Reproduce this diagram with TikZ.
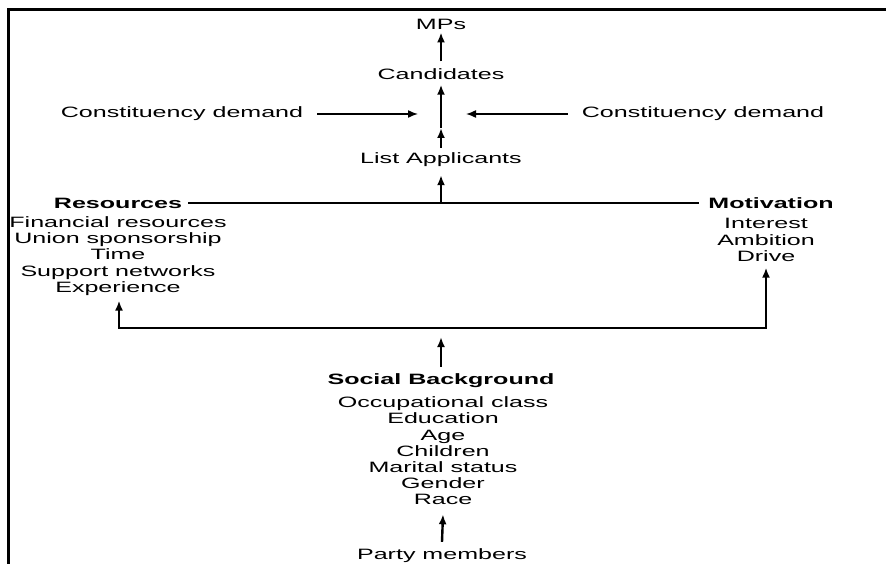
\documentclass[tikz,border=0pt]{standalone}
\usepackage{fontspec}
\setmainfont{Liberation Sans}[FakeStretch=1.67]
\usetikzlibrary{arrows.meta}
\begin{document}
\begin{tikzpicture}[x=1pt,y=-1pt,
  txt/.style={inner sep=0pt,align=center,font=\fontsize{15}{16.2}\selectfont},
  hd/.style={txt,font=\fontsize{15}{16.2}\selectfont\bfseries},
  tip/.style={-{Latex[length=10pt,width=8pt]}},
  arr/.style={tip,line width=2.4pt},
  harr/.style={tip,line width=1.5pt},
  ln/.style={line width=1.5pt}]
\useasboundingbox (0,0) rectangle (886,564);
\draw[line width=3pt] (886,10) -- (8.5,10) -- (8.5,564);

\node[txt] (mps) at (441,24) {MPs};
\node[txt] (cand) at (441,74) {Candidates};
\node[txt] (cdl) at (182,114) {Constituency demand};
\node[txt] (cdr) at (703,114) {Constituency demand};
\coordinate (cross) at (441,114);
\coordinate (mid) at (441,128);
\node[txt] (list) at (441,160) {List Applicants};
\node[hd] (res) at (118,203) {Resources};
\node[hd] (mot) at (771,203) {Motivation};
\coordinate (join) at (441,203);
\node[txt] (reslist) at (118,256) {Financial resources\\Union sponsorship\\Time\\Support networks\\Experience};
\node[txt] (motlist) at (766,240) {Interest\\Ambition\\Drive};
\coordinate (bl) at (119,328);
\node[hd] (soc) at (441,381) {Social Background};
\node[txt] (soclist) at (443,451) {Occupational class\\Education\\Age\\Children\\Marital status\\Gender\\Race};
\node[txt] (party) at (442,556) {Party members};

\draw[arr] ([yshift=7pt]cand.north) -- ([yshift=-3pt]mps.south);
\draw[arr] (mid) -- ([yshift=-5pt]cand.south);
\draw[arr] ([yshift=5pt]list.north) -- (mid);
\draw[harr,shorten <=14pt,shorten >=23pt] (cdl.east) -- (cross);
\draw[harr,shorten <=14pt,shorten >=25pt] (cdr.west) -- (cross);
\draw[ln,shorten <=6pt,shorten >=9pt] (res.east) -- (mot.west);
\draw[arr] (join) -- ([yshift=-8pt]list.south);
\draw[{Latex[length=10pt,width=8pt]}-{Latex[length=10pt,width=8pt]},line width=2pt]
  ([yshift=-5pt]reslist.south -| bl) |- (motlist.south |- bl) -- ([yshift=-6pt]motlist.south);
\draw[arr,shorten >=9pt] ([yshift=7pt]soc.north) -- (soc.north |- bl);
\draw[arr] ([yshift=7pt]party.north) -- ([yshift=-9pt]soclist.south);
\end{tikzpicture}
\end{document}
